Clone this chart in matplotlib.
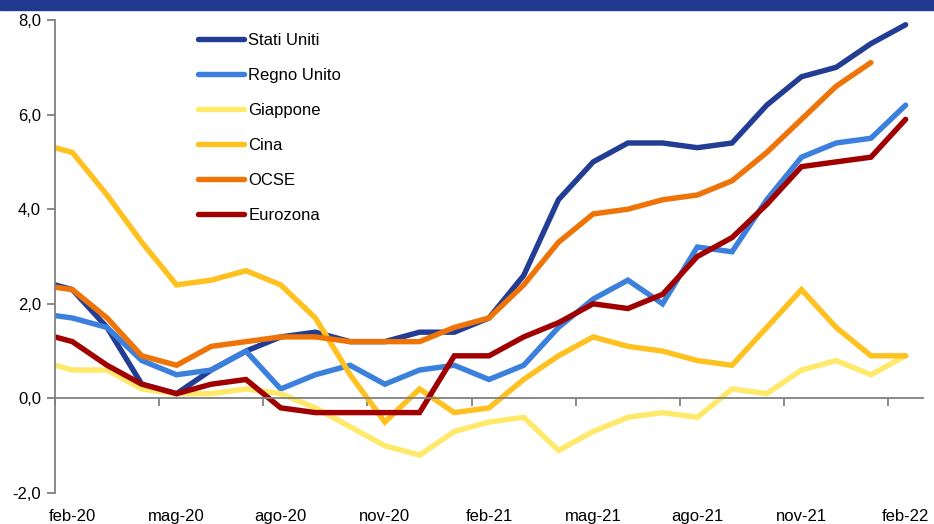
import matplotlib.pyplot as plt
from matplotlib.patches import Rectangle
from matplotlib.ticker import FuncFormatter

plt.rcParams['font.family'] = ['Liberation Sans', 'DejaVu Sans']

# mesi da gen-20 a feb-22
mesi = ['gen-20', 'feb-20', 'mar-20', 'apr-20', 'mag-20', 'giu-20', 'lug-20', 'ago-20',
        'set-20', 'ott-20', 'nov-20', 'dic-20', 'gen-21', 'feb-21', 'mar-21', 'apr-21',
        'mag-21', 'giu-21', 'lug-21', 'ago-21', 'set-21', 'ott-21', 'nov-21', 'dic-21',
        'gen-22', 'feb-22']

stati_uniti = [2.5, 2.3, 1.5, 0.3, 0.1, 0.6, 1.0, 1.3, 1.4, 1.2, 1.2, 1.4, 1.4,
               1.7, 2.6, 4.2, 5.0, 5.4, 5.4, 5.3, 5.4, 6.2, 6.8, 7.0, 7.5, 7.9]
regno_unito = [1.8, 1.7, 1.5, 0.8, 0.5, 0.6, 1.0, 0.2, 0.5, 0.7, 0.3, 0.6, 0.7,
               0.4, 0.7, 1.5, 2.1, 2.5, 2.0, 3.2, 3.1, 4.2, 5.1, 5.4, 5.5, 6.2]
giappone = [0.8, 0.6, 0.6, 0.2, 0.1, 0.1, 0.2, 0.1, -0.2, -0.6, -1.0, -1.2, -0.7,
            -0.5, -0.4, -1.1, -0.7, -0.4, -0.3, -0.4, 0.2, 0.1, 0.6, 0.8, 0.5, 0.9]
cina = [5.4, 5.2, 4.3, 3.3, 2.4, 2.5, 2.7, 2.4, 1.7, 0.5, -0.5, 0.2, -0.3,
        -0.2, 0.4, 0.9, 1.3, 1.1, 1.0, 0.8, 0.7, 1.5, 2.3, 1.5, 0.9, 0.9]
ocse = [2.4, 2.3, 1.7, 0.9, 0.7, 1.1, 1.2, 1.3, 1.3, 1.2, 1.2, 1.2, 1.5,
        1.7, 2.4, 3.3, 3.9, 4.0, 4.2, 4.3, 4.6, 5.2, 5.9, 6.6, 7.1]
eurozona = [1.4, 1.2, 0.7, 0.3, 0.1, 0.3, 0.4, -0.2, -0.3, -0.3, -0.3, -0.3, 0.9,
            0.9, 1.3, 1.6, 2.0, 1.9, 2.2, 3.0, 3.4, 4.1, 4.9, 5.0, 5.1, 5.9]

serie = [('Stati Uniti', stati_uniti, '#233d94'),
         ('Regno Unito', regno_unito, '#3b80dc'),
         ('Giappone', giappone, '#ffe96b'),
         ('Cina', cina, '#ffc11f'),
         ('OCSE', ocse, '#ee7408'),
         ('Eurozona', eurozona, '#a00000')]

W, H = 934, 524
fig = plt.figure(figsize=(W / 100, H / 100), dpi=100)
ax = fig.add_axes([55 / W, 1 - 493 / H, (923 - 55) / W, (493 - 20) / H])

for nome, val, col in serie:
    ax.plot(range(len(val)), val, color=col, lw=3.9, label=nome,
            solid_capstyle='round', solid_joinstyle='miter')

ax.set_xlim(0.5, len(mesi) - 0.5)
ax.set_ylim(-2, 8)
ax.set_yticks([-2, 0, 2, 4, 6, 8])
ax.yaxis.set_major_formatter(FuncFormatter(lambda v, p: ('%.1f' % v).replace('.', ',')))

grigio = '#808080'
for s in ['top', 'right']:
    ax.spines[s].set_visible(False)
ax.spines['left'].set_color(grigio)
ax.spines['left'].set_linewidth(1.3)
ax.spines['bottom'].set_position(('data', 0))
ax.spines['bottom'].set_color(grigio)
ax.spines['bottom'].set_linewidth(1.3)

ax.set_xticks([i + 0.5 for i in range(0, len(mesi), 3)])
ax.set_xticklabels([])
ax.tick_params(axis='x', direction='out', length=6, width=1.3, color=grigio)
ax.tick_params(axis='y', direction='out', length=6, width=1.3, color=grigio,
               labelsize=12, pad=4)

# etichette dei mesi in fondo al grafico
sec = ax.secondary_xaxis('bottom')
sec.set_xticks(list(range(1, len(mesi), 3)))
sec.set_xticklabels([mesi[i] for i in range(1, len(mesi), 3)])
sec.tick_params(length=0, labelsize=12, pad=11.5)
sec.spines['bottom'].set_visible(False)

leg = ax.legend(loc='upper left', bbox_to_anchor=(0.147, 1.005), frameon=False,
                fontsize=12, handlelength=2.8, handletextpad=0.25, labelspacing=1.2)

# fascia del titolo (tagliata in alto)
fig.patches.append(Rectangle((0, 1 - 10 / H), 1, 10 / H, transform=fig.transFigure,
                             color='#213a90', zorder=0))
fig.text(0.44, 1 + 4 / H, 'Inflazione al consumo nelle principali economie (variazioni percentuali a/a)',
         color='white', fontsize=13, fontweight='bold', ha='center', va='baseline')

fig.savefig('out.png', dpi=100)
